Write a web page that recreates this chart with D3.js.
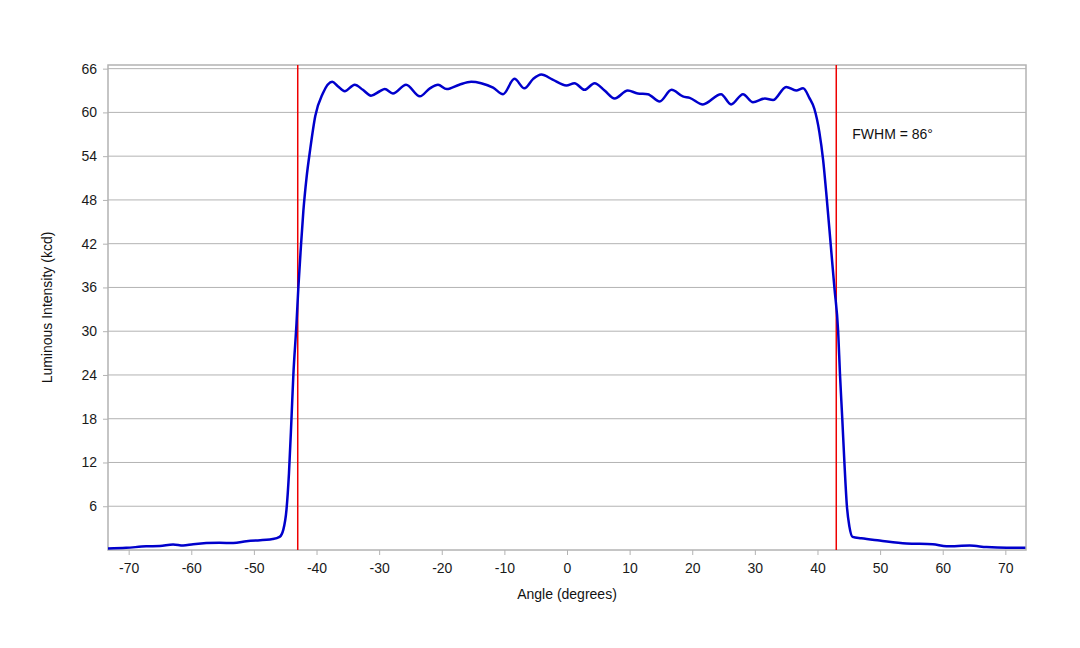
<!DOCTYPE html>
<html>
<head>
<meta charset="utf-8">
<script src="https://cdn.jsdelivr.net/npm/d3@7"></script>
<style>
  body { margin: 0; background: #fff; }
  svg { font-family: "Liberation Sans", Arial, sans-serif; }
  .grid line { stroke: #b3b3b3; stroke-width: 1; }
  .axis path, .axis line { stroke: #b3b3b3; }
  .axis text { fill: #1a1a1a; font-size: 14px; }
  .frame { fill: none; stroke: #b3b3b3; stroke-width: 1.5; }
  .fwhm-line { stroke: #ee0000; stroke-width: 1.5; }
  .curve { fill: none; stroke: #0000cc; stroke-width: 2.5; stroke-linejoin: round; }
  .label { fill: #111; font-size: 14px; }
</style>
</head>
<body>
<svg width="1080" height="648"></svg>
<script>
// measured profile (angle in degrees, intensity in kcd)
var angles = [-73.3, -70.4, -67.2, -65, -62.9, -61.3, -59.7, -55.5, -53.3, -51.2, -47, -45.9, -45.3, -44.8, -44.4,
    -44.0, -43.7, -43.2, -42.9, -42.5, -42.1, -41.6, -41.0, -40.2, -39.0, -37.5, -36.6, -35.5, -33.9, -32.6, -31.3,
    -29.9, -29.1, -27.8, -25.7, -23.5, -21.9, -20.6, -19.2, -17.2, -15.3, -13.7, -11.8, -10.2, -8.4, -6.8,
    -5.4, -4.1, -2.3, -0.1, 1.2, 2.8, 4.4, 6.0, 7.6, 9.7, 11.3, 12.9, 14.8, 16.7, 18.5,
    19.6, 21.7, 24.6, 26.2, 28.1, 29.7, 31.6, 32.9, 35.0, 36.6, 37.7, 38.7, 39.5, 40.3, 40.9, 41.5,
    42.1, 42.7, 43.3, 43.6, 43.96, 44.3, 44.7, 45.1, 45.6, 47, 49.9, 54.2, 58.4, 60.6, 64.3,
    67, 70.2, 73.2];
var intensity = [0.2, 0.3, 0.5, 0.55, 0.75, 0.6, 0.8, 1.0, 0.95, 1.2, 1.5, 1.8, 2.8, 5.5, 10.5,
    18, 24, 31, 36, 41.5, 46.5, 51, 55, 59.5, 62.6, 64.2, 63.6, 62.9, 63.8, 63.1, 62.3,
    62.9, 63.2, 62.6, 63.8, 62.2, 63.3, 63.8, 63.2, 63.8, 64.2, 64.0, 63.4, 62.5, 64.6, 63.3,
    64.6, 65.2, 64.5, 63.7, 64.0, 63.1, 64.0, 63.0, 61.9, 63.0, 62.6, 62.5, 61.5, 63.1, 62.2,
    62.0, 61.1, 62.5, 61.1, 62.5, 61.4, 61.9, 61.7, 63.5, 63.0, 63.3, 62.0, 60.5, 57.3, 53.5, 48,
    42, 36, 30, 24, 18, 12, 6, 3.2, 1.8, 1.6, 1.3, 0.9, 0.8, 0.5, 0.6,
    0.4, 0.3, 0.3];
var x_ticks = [-70, -60, -50, -40, -30, -20, -10, 0, 10, 20, 30, 40, 50, 60, 70];
var y_ticks = [6, 12, 18, 24, 30, 36, 42, 48, 54, 60, 66];
var fwhm_edges = [-43, 43];
var fwhm_text = "FWHM = 86°";

var svg = d3.select("svg"),
    margin = {top: 65, right: 54, bottom: 98, left: 108},
    width = +svg.attr("width") - (margin.left + margin.right),
    height = +svg.attr("height") - (margin.top + margin.bottom);

var x = d3.scaleLinear().domain([-73.3, 73.3]).range([0, width]),
    y = d3.scaleLinear().domain([0, 66.5]).range([height, 0]);

// plain hyphen for negatives, like the original
var tick_format = function(d) { return String(d); };

var chart = svg.append("g")
    .attr("transform", "translate(" + margin.left + "," + margin.top + ")");

// horizontal grid
chart.append("g")
    .attr("class", "grid")
    .selectAll("line")
    .data(y_ticks)
    .join("line")
    .attr("x1", 0)
    .attr("x2", width)
    .attr("y1", function(d) { return y(d); })
    .attr("y2", function(d) { return y(d); });

chart.append("rect")
    .attr("class", "frame")
    .attr("x", 0)
    .attr("y", 0)
    .attr("width", width)
    .attr("height", height);

// axes
chart.append("g")
    .attr("class", "axis")
    .attr("transform", "translate(0," + height + ")")
    .call(d3.axisBottom(x).tickValues(x_ticks).tickFormat(tick_format).tickSize(5).tickSizeOuter(0).tickPadding(8))
    .call(function(g) { g.select(".domain").remove(); });

chart.append("g")
    .attr("class", "axis")
    .call(d3.axisLeft(y).tickValues(y_ticks).tickFormat(tick_format).tickSize(5).tickSizeOuter(0).tickPadding(6))
    .call(function(g) { g.select(".domain").remove(); });

// FWHM markers
chart.selectAll(".fwhm-line")
    .data(fwhm_edges)
    .join("line")
    .attr("class", "fwhm-line")
    .attr("x1", function(d) { return x(d); })
    .attr("x2", function(d) { return x(d); })
    .attr("y1", 0)
    .attr("y2", height);

// intensity curve
var points = angles.map(function(a, i) { return [a, intensity[i]]; });
var line = d3.line()
    .x(function(d) { return x(d[0]); })
    .y(function(d) { return y(d[1]); })
    .curve(d3.curveMonotoneX);

chart.append("path")
    .datum(points)
    .attr("class", "curve")
    .attr("d", line);

chart.append("text")
    .attr("class", "label")
    .attr("x", x(fwhm_edges[1]) + 16)
    .attr("y", y(57))
    .attr("dy", "0.35em")
    .text(fwhm_text);

// axis titles
svg.append("text")
    .attr("class", "label")
    .attr("x", margin.left + width / 2)
    .attr("y", 599)
    .attr("text-anchor", "middle")
    .text("Angle (degrees)");

svg.append("text")
    .attr("class", "label")
    .attr("transform", "translate(52," + (margin.top + height / 2) + ") rotate(-90)")
    .attr("text-anchor", "middle")
    .text("Luminous Intensity (kcd)");
</script>
</body>
</html>
